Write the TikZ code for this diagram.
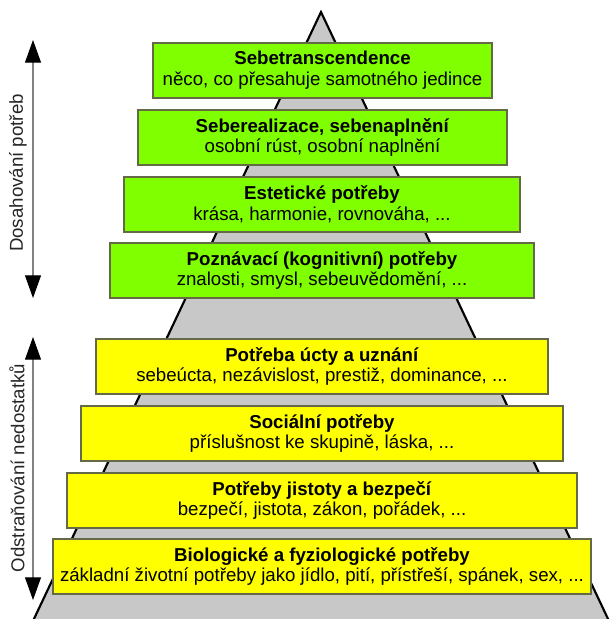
\documentclass[tikz,border=0pt]{standalone}
\usepackage{fontspec}
\setmainfont{Liberation Sans}
\usetikzlibrary{arrows.meta}
\definecolor{pyrgray}{RGB}{200,200,200}
\definecolor{needgreen}{RGB}{128,255,0}
\definecolor{needyellow}{RGB}{255,255,0}
\definecolor{boxedge}{RGB}{100,105,70}
\definecolor{axisgray}{RGB}{130,130,130}
\begin{document}
\begin{tikzpicture}[x=0.75pt,y=-0.75pt,
  need/.style={draw=boxedge, line width=1.2pt, inner sep=0pt, align=center,
    minimum height=41.25pt, font=\fontsize{14}{15.5}\selectfont, text=black},
  greenneed/.style={need, fill=needgreen},
  yellowneed/.style={need, fill=needyellow},
  axislabel/.style={rotate=90, font=\fontsize{14}{16}\selectfont, text=black!85},
  axisarrow/.style={draw=axisgray, line width=0.8pt,
    {Triangle[length=17pt,width=12pt,color=black]}-{Triangle[length=17pt,width=12pt,color=black]}}
]
\useasboundingbox (0,0) rectangle (614,619);
\fill[white] (0,0) rectangle (614,619);
\begin{scope}
\clip (0,0) rectangle (614,619);
\draw[fill=pyrgray, line width=1.6pt, line join=miter] (321,12) -- (618,640) -- (24,640) -- cycle;
\end{scope}

\node[greenneed, minimum width=254.25pt] (n1) at (322.5,70.5)
  {\textbf{Sebetranscendence}\\něco, co přesahuje samotného jedince};
\node[greenneed, minimum width=276.75pt] (n2) at (322.5,137.5)
  {\textbf{Seberealizace, sebenaplnění}\\osobní rúst, osobní naplnění};
\node[greenneed, minimum width=297pt] (n3) at (322,204.5)
  {\textbf{Estetické potřeby}\\krása, harmonie, rovnováha, ...};
\node[greenneed, minimum width=318pt] (n4) at (322,270.5)
  {\textbf{Poznávací (kognitivní) potřeby}\\znalosti, smysl, sebeuvědomění, ...};
\node[yellowneed, minimum width=339pt] (n5) at (322,366.5)
  {\textbf{Potřeba úcty a uznání}\\sebeúcta, nezávislost, prestiž, dominance, ...};
\node[yellowneed, minimum width=361.5pt] (n6) at (322,433.5)
  {\textbf{Sociální potřeby}\\příslušnost ke skupině, láska, ...};
\node[yellowneed, minimum width=382.5pt] (n7) at (322,500.5)
  {\textbf{Potřeby jistoty a bezpečí}\\bezpečí, jistota, zákon, pořádek, ...};
\node[yellowneed, minimum width=403.5pt] (n8) at (322,566.5)
  {\textbf{Biologické a fyziologické potřeby}\\základní životní potřeby jako jídlo, pití, přístřeší, spánek, sex, ...};

\coordinate (a1top) at (33,40);
\coordinate (a1bot) at (33,298);
\coordinate (a2top) at (33,337);
\coordinate (a2bot) at (33,600);
\draw[axisarrow] (a1top) -- (a1bot);
\draw[axisarrow] (a2top) -- (a2bot);
\node[axislabel] (l1) at (18,173) {Dosahování potřeb};
\node[axislabel] (l2) at (17,468) {Odstraňování nedostatků};
\end{tikzpicture}
\end{document}
